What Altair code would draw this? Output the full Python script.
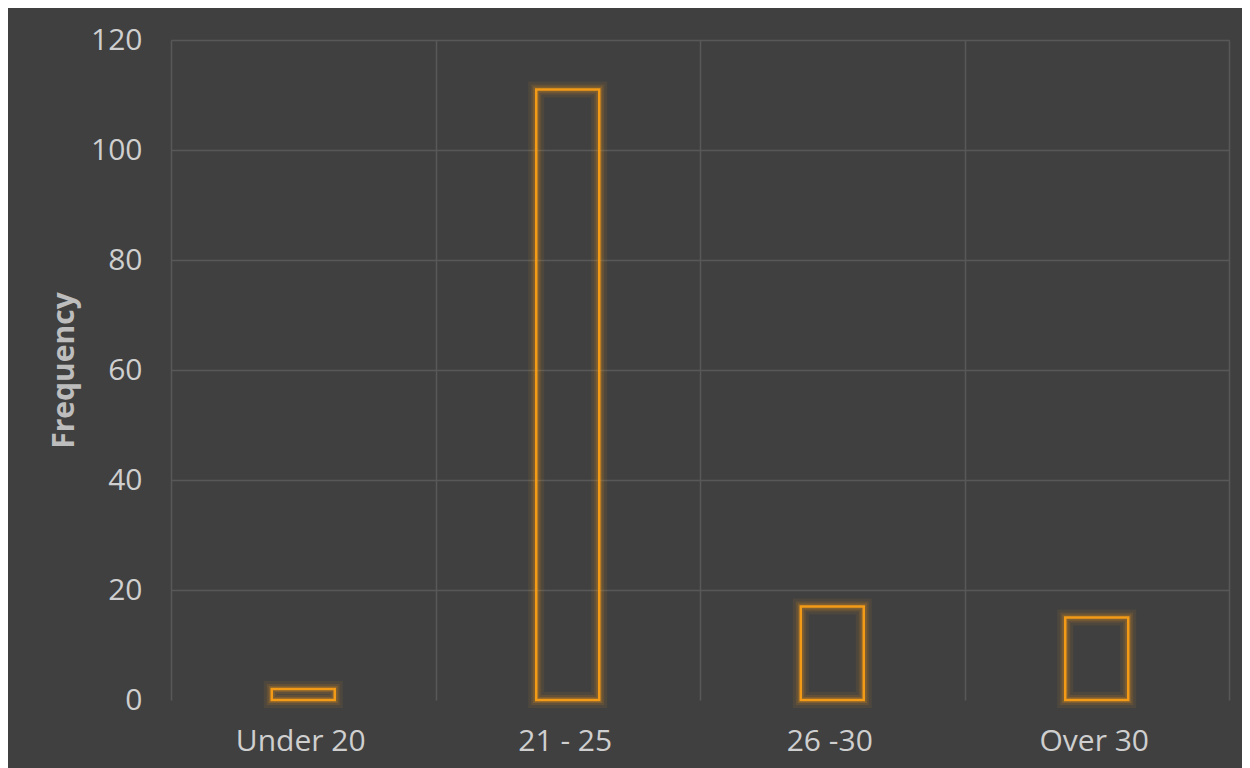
import altair as alt
import pandas as pd

categories = ["Under 20", "21 - 25", "26 -30", "Over 30"]
frequency = [2, 111, 17, 15]
y_ticks = [0, 20, 40, 60, 80, 100, 120]

df = pd.DataFrame({"Age": categories, "Frequency": frequency})

FONT = "Open Sans"
ORANGE = "#F39A17"
LABEL = "#cfcfcf"

x_enc = alt.X(
    "Age:N",
    sort=categories,
    title=None,
    scale=alt.Scale(paddingInner=0, paddingOuter=0),
    axis=alt.Axis(
        grid=True,
        tickBand="extent",
        ticks=False,
        tickSize=0,
        domain=False,
        labelAngle=0,
        labelFont=FONT,
        labelFontSize=30,
        labelColor=LABEL,
        labelBaseline="alphabetic",
        labelPadding=50,
        labelOffset=-3,
        gridColor="#585858",
        gridWidth=1.5,
    ),
)
y_enc = alt.Y(
    "Frequency:Q",
    scale=alt.Scale(domain=[0, 120], nice=False),
    axis=alt.Axis(
        values=y_ticks,
        title="Frequency",
        titleFont=FONT,
        titleFontSize=30,
        titleFontWeight="bold",
        titleColor="#bdbdbd",
        titleAngle=-90,
        titleBaseline="alphabetic",
        titleX=-98,
        titleY=330,
        titleAlign="center",
        grid=True,
        gridColor="#585858",
        gridWidth=1.5,
        gridOpacity={"condition": {"test": "datum.value === 0", "value": 0}, "value": 1},
        ticks=False,
        tickSize=0,
        domain=False,
        labelFont=FONT,
        labelFontSize=30,
        labelColor=LABEL,
        labelPadding=29,
        labelBaseline="middle",
    ),
)

base = alt.Chart(df)

glow_outer = base.mark_bar(
    size=63, fill=None, stroke=ORANGE, strokeWidth=16, strokeOpacity=0.08
).encode(x=x_enc, y=y_enc)
glow_mid = base.mark_bar(
    size=63, fill=None, stroke=ORANGE, strokeWidth=10, strokeOpacity=0.12
).encode(x=x_enc, y=y_enc)
glow_inner = base.mark_bar(
    size=63, fill=None, stroke=ORANGE, strokeWidth=6, strokeOpacity=0.2
).encode(x=x_enc, y=y_enc)
bars = base.mark_bar(
    size=63, fill=None, stroke=ORANGE, strokeWidth=2.5
).encode(x=x_enc, y=y_enc)

chart = (
    alt.layer(glow_outer, glow_mid, glow_inner, bars)
    .properties(
        width=1058,
        height=660,
        autosize=alt.AutoSizeParams(type="none"),
        padding={"left": 163, "top": 32, "right": 13, "bottom": 68},
        background="#404040",
    )
    .configure_view(stroke=None)
)

chart.save("out.html", embed_options={"renderer": "svg", "actions": False})
